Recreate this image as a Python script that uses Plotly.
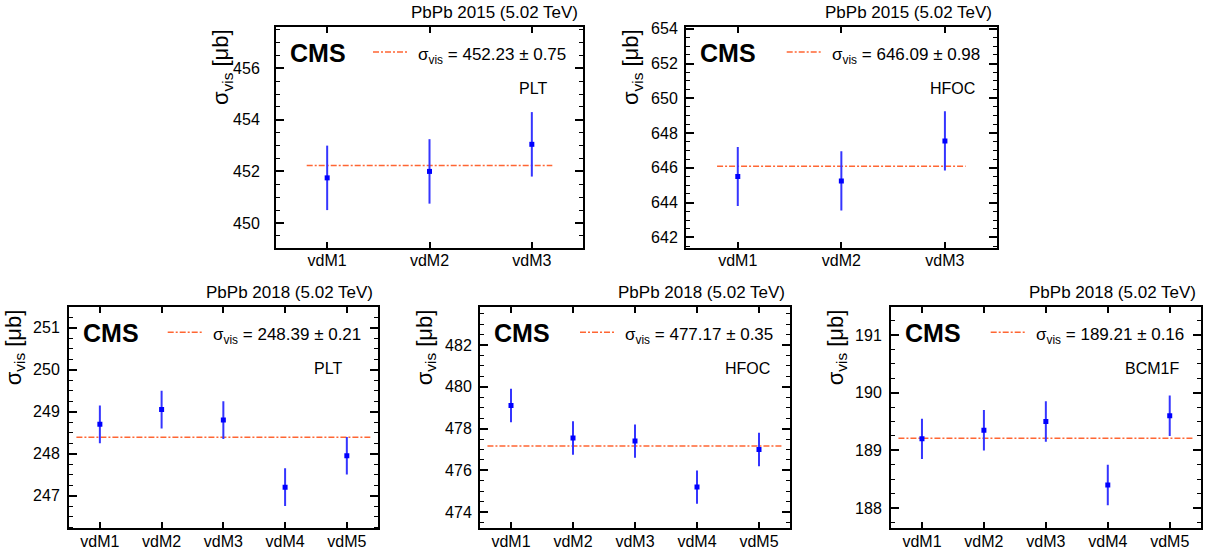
import plotly.graph_objects as go

W, H = 1209, 549

# ---------------- data ----------------
scans_2015 = ["vdM1", "vdM2", "vdM3"]
scans_2018 = ["vdM1", "vdM2", "vdM3", "vdM4", "vdM5"]

plt2015_vals = [451.75, 452.00, 453.05]
plt2015_errs = [1.25, 1.25, 1.25]
plt2015_fit = 452.23
plt2015_fit_err = 0.75

hfoc2015_vals = [645.50, 645.25, 647.55]
hfoc2015_errs = [1.70, 1.70, 1.70]
hfoc2015_fit = 646.09
hfoc2015_fit_err = 0.98

plt2018_vals = [248.70, 249.05, 248.80, 247.20, 247.95]
plt2018_errs = [0.45, 0.45, 0.45, 0.45, 0.45]
plt2018_fit = 248.39
plt2018_fit_err = 0.21

hfoc2018_vals = [479.10, 477.55, 477.40, 475.20, 477.00]
hfoc2018_errs = [0.80, 0.80, 0.80, 0.80, 0.80]
hfoc2018_fit = 477.17
hfoc2018_fit_err = 0.35

bcm2018_vals = [189.20, 189.35, 189.50, 188.40, 189.60]
bcm2018_errs = [0.35, 0.35, 0.35, 0.35, 0.35]
bcm2018_fit = 189.21
bcm2018_fit_err = 0.16

fit_span_2015 = [0.8, 3.2]
fit_span_2018 = [0.62, 5.38]

# ---------------- panels (frame in px) ----------------
panels = [
    dict(cats=scans_2015, vals=plt2015_vals, errs=plt2015_errs, fit=plt2015_fit, fit_err=plt2015_fit_err,
         span=fit_span_2015, det="PLT", title="PbPb 2015 (5.02 TeV)",
         frame=(276, 583, 27, 248), yr=(449.03, 457.6), dtick=2, minor=0.5, standoff=11, detx=0.784),
    dict(cats=scans_2015, vals=hfoc2015_vals, errs=hfoc2015_errs, fit=hfoc2015_fit, fit_err=hfoc2015_fit_err,
         span=fit_span_2015, det="HFOC", title="PbPb 2015 (5.02 TeV)",
         frame=(686, 996.7, 27, 248), yr=(641.39, 654.1), dtick=2, minor=0.5, standoff=3, detx=0.78),
    dict(cats=scans_2018, vals=plt2018_vals, errs=plt2018_errs, fit=plt2018_fit, fit_err=plt2018_fit_err,
         span=fit_span_2018, det="PLT", title="PbPb 2018 (5.02 TeV)",
         frame=(69, 377.7, 307.3, 528.3), yr=(246.22, 251.49), dtick=1, minor=0.25, standoff=4, detx=0.786),
    dict(cats=scans_2018, vals=hfoc2018_vals, errs=hfoc2018_errs, fit=hfoc2018_fit, fit_err=hfoc2018_fit_err,
         span=fit_span_2018, det="HFOC", title="PbPb 2018 (5.02 TeV)",
         frame=(480, 790, 307.3, 528.3), yr=(473.23, 483.8), dtick=2, minor=0.5, standoff=3, detx=0.783),
    dict(cats=scans_2018, vals=bcm2018_vals, errs=bcm2018_errs, fit=bcm2018_fit, fit_err=bcm2018_fit_err,
         span=fit_span_2018, det="BCM1F", title="PbPb 2018 (5.02 TeV)",
         frame=(891, 1200.7, 307.3, 528.3), yr=(187.65, 191.48), dtick=1, minor=0.25, standoff=4, detx=0.75),
]

FONT = "Liberation Sans, Arial, sans-serif"
FIT_COLOR = "#ff6633"
FIT_DASH = "6px,2px,2px,2px"
PT_COLOR = "#0000ff"
BAR_COLOR = "#3535ff"

def px(x):
    return x / W

def py(y):
    return 1 - y / H

fig = go.Figure()
layout = dict(
    template="none",
    width=W, height=H,
    margin=dict(l=0, r=0, t=0, b=0, autoexpand=False),
    paper_bgcolor="white", plot_bgcolor="white",
    showlegend=False,
    font=dict(family=FONT, color="black", size=16),
)
annotations = []
shapes = []

for i, p in enumerate(panels, start=1):
    sfx = "" if i == 1 else str(i)
    xa, ya = "x" + sfx, "y" + sfx
    n = len(p["cats"])
    xs = list(range(1, n + 1))
    x0, x1, y0, y1 = p["frame"]

    # fit line
    fig.add_trace(go.Scatter(
        x=p["span"], y=[p["fit"], p["fit"]], mode="lines",
        line=dict(color=FIT_COLOR, width=1.5, dash=FIT_DASH),
        xaxis=xa, yaxis=ya, hoverinfo="skip"))
    # points with errors
    fig.add_trace(go.Scatter(
        x=xs, y=p["vals"], mode="markers",
        marker=dict(symbol="square", size=5, color=PT_COLOR),
        error_y=dict(type="data", array=p["errs"], visible=True, color=BAR_COLOR, thickness=2, width=0),
        xaxis=xa, yaxis=ya))

    layout["xaxis" + sfx] = dict(
        domain=[px(x0), px(x1)], anchor=ya, range=[0.5, n + 0.5], automargin=False,
        tickmode="array", tickvals=xs, ticktext=p["cats"],
        ticks="inside", ticklen=6, tickwidth=1.5, tickcolor="black",
        showline=True, linewidth=2, linecolor="black", mirror="ticks",
        showgrid=False, zeroline=False, tickfont=dict(size=16), ticklabelstandoff=-3)
    layout["yaxis" + sfx] = dict(
        domain=[py(y1), py(y0)], anchor=xa, range=list(p["yr"]), automargin=False,
        tickmode="linear", tick0=0, dtick=p["dtick"],
        ticks="inside", ticklen=8, tickwidth=1.5, tickcolor="black",
        minor=dict(dtick=p["minor"], tick0=0, ticks="inside", ticklen=4, tickwidth=1, tickcolor="black", showgrid=False),
        showline=True, linewidth=2, linecolor="black", mirror="ticks",
        showgrid=False, zeroline=False, tickfont=dict(size=16),
        ticklabelstandoff=p["standoff"])

    # title above frame
    annotations.append(dict(
        text=p["title"], xref="paper", yref="paper", x=px(x1 - 3), y=py(y0 - 3),
        xanchor="right", yanchor="bottom", showarrow=False, font=dict(size=17)))
    # CMS
    annotations.append(dict(
        text="<b>CMS</b>", xref="paper", yref="paper", x=px(x0 + 12), y=py(y0 + 26),
        xanchor="left", yanchor="middle", showarrow=False, font=dict(size=25)))
    # y title
    annotations.append(dict(
        text="σ<sub>vis</sub> [μb]", xref="paper", yref="paper", x=px(x0 - 38), y=py(y0),
        xanchor="right", yanchor="top", textangle=-90, showarrow=False, font=dict(size=22)))
    # legend text
    annotations.append(dict(
        text="σ<sub>vis</sub> = %.2f ± %.2f" % (p["fit"], p["fit_err"]),
        xref="paper", yref="paper", x=px(x1 - 15), y=py(y0 + 29),
        xanchor="right", yanchor="middle", showarrow=False, font=dict(size=17)))
    # detector label
    annotations.append(dict(
        text=p["det"], xref="paper", yref="paper", x=px(x0 + p["detx"] * (x1 - x0)), y=py(y0 + 61),
        xanchor="left", yanchor="middle", showarrow=False, font=dict(size=16)))
    # legend sample line
    shapes.append(dict(
        type="line", xref="paper", yref="paper",
        x0=px(x1 - 210), x1=px(x1 - 175), y0=py(y0 + 25), y1=py(y0 + 25),
        line=dict(color=FIT_COLOR, width=1.5, dash=FIT_DASH)))

layout["annotations"] = annotations
layout["shapes"] = shapes
fig.update_layout(**layout)
fig.write_html(
    "out.html",
    config={"displayModeBar": False},
    post_script="document.body.style.margin='0';document.body.style.padding='0';document.body.style.overflow='hidden';",
)
